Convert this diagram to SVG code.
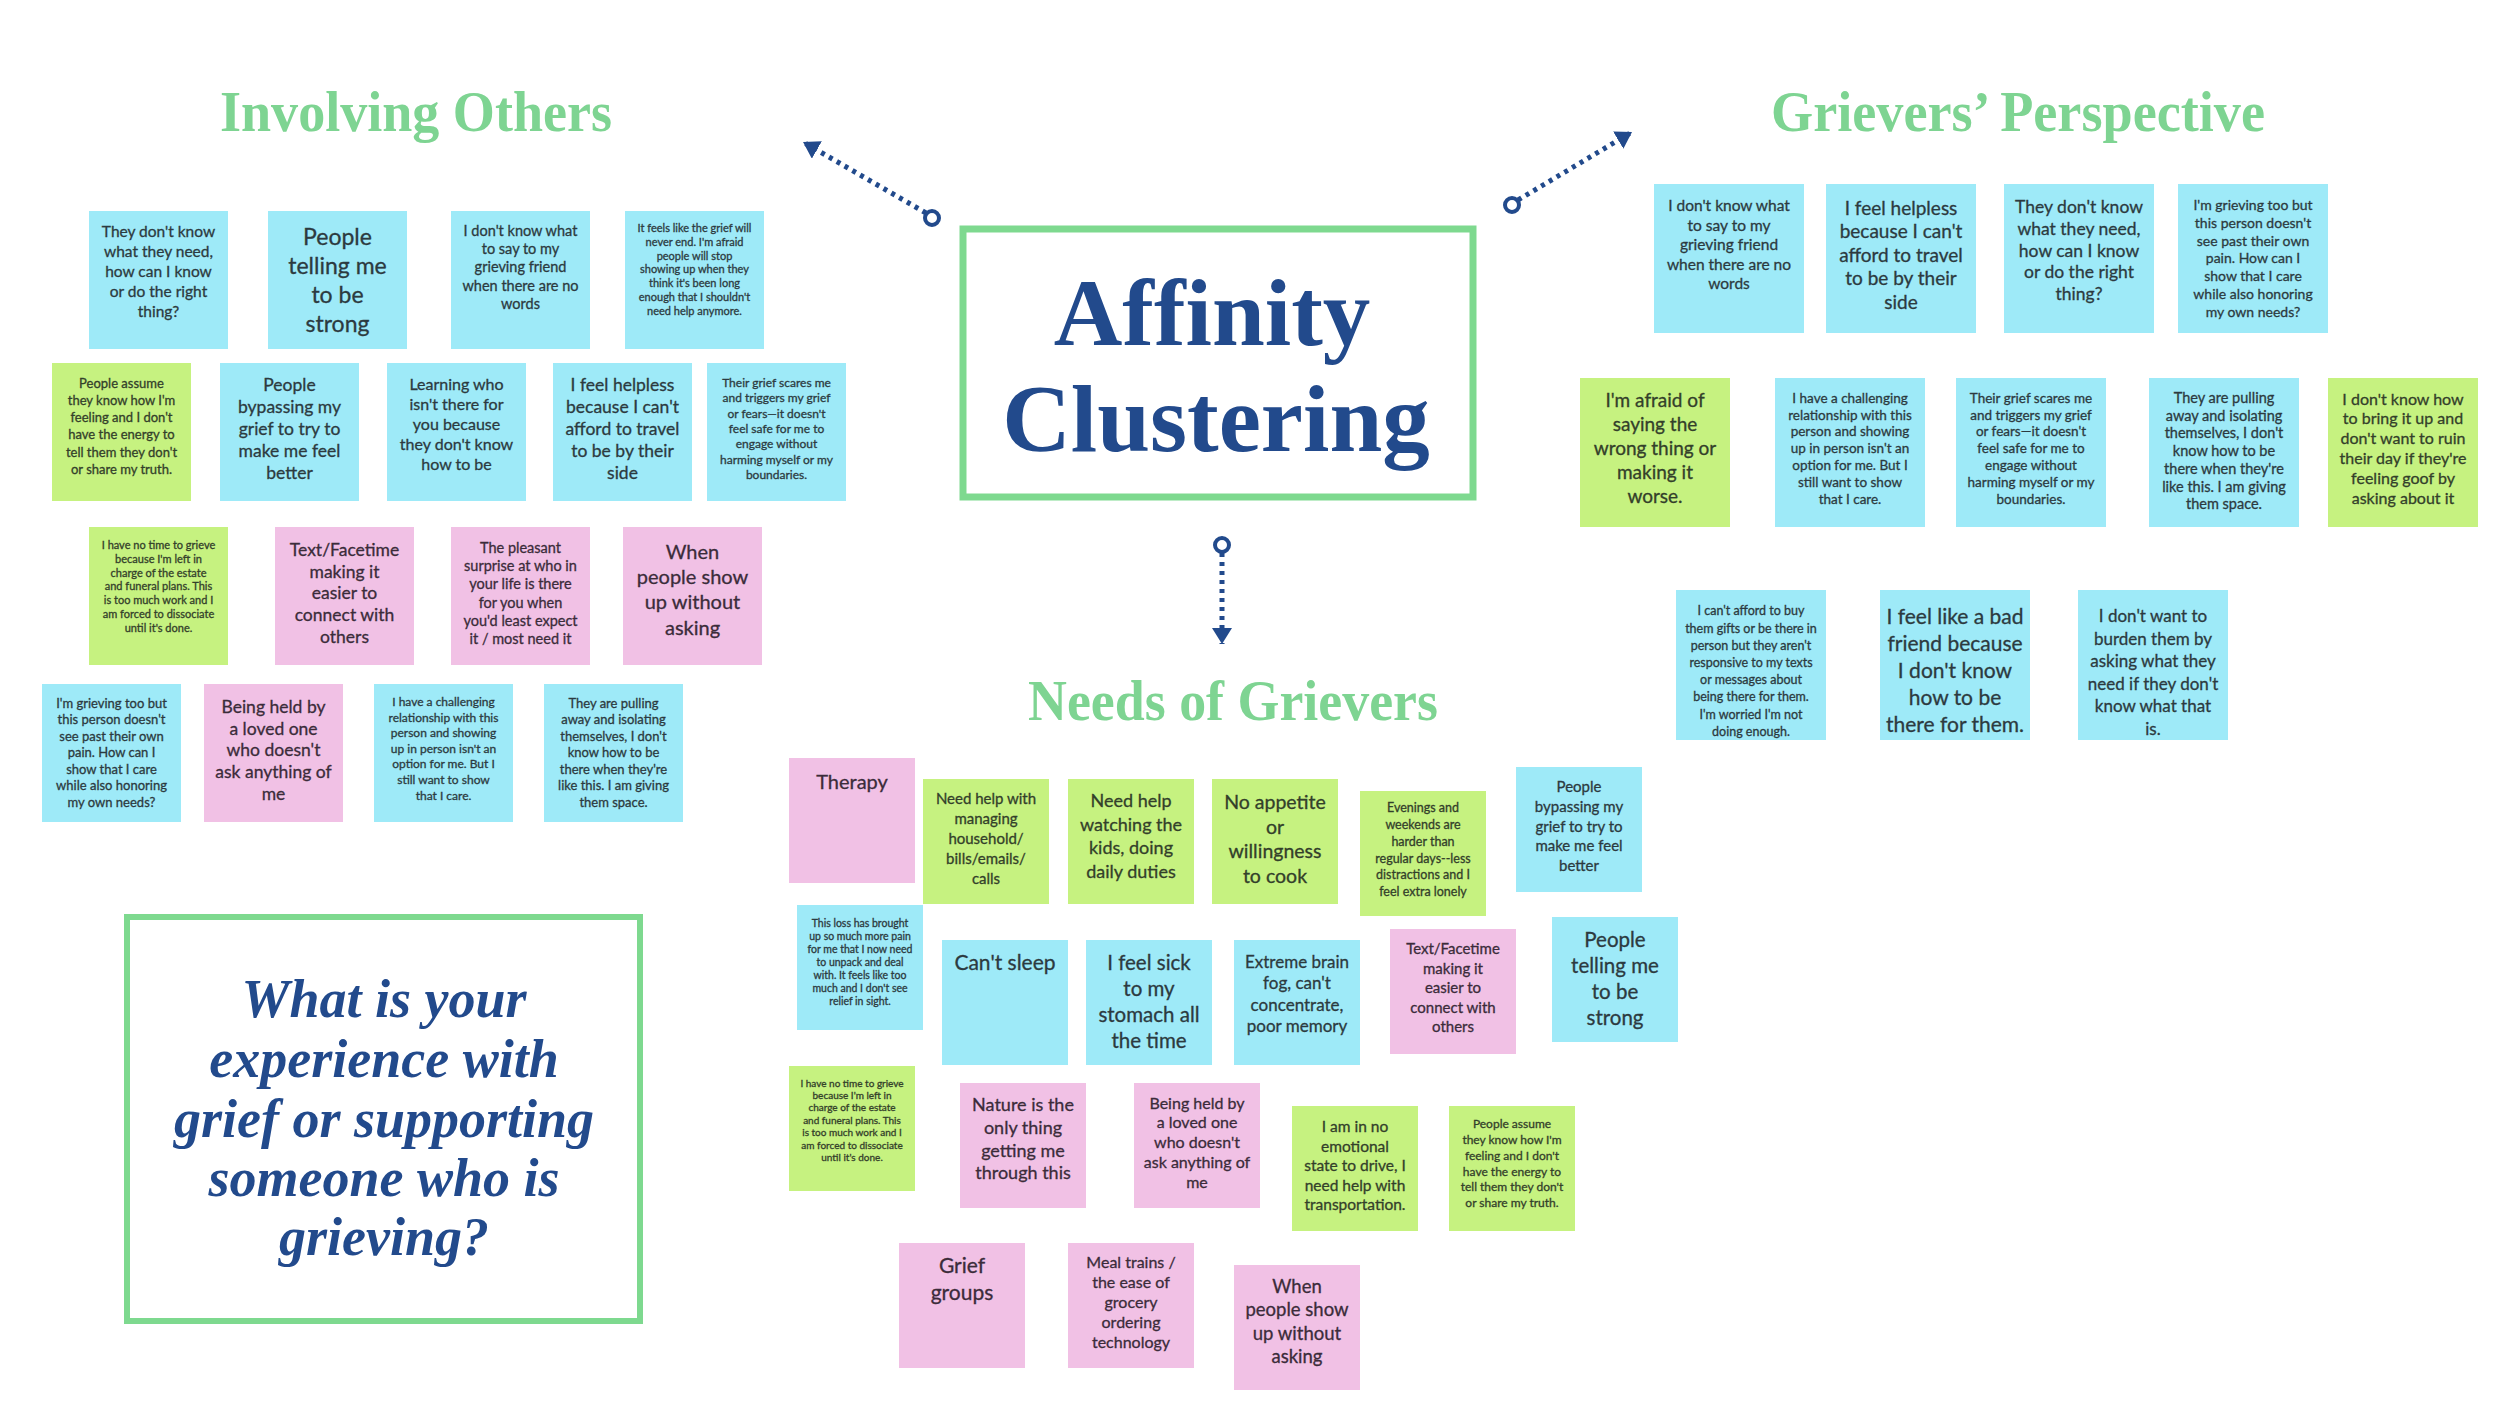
<svg xmlns="http://www.w3.org/2000/svg" width="2500" height="1406" viewBox="0 0 2500 1406">
<style>
.b{fill:#9EEAF8}.g{fill:#C6F280}.p{fill:#F1C1E5}
text.t{font-family:Lato,"Liberation Sans",sans-serif;text-anchor:middle;fill:#2c3a40;stroke:#2c3a40;stroke-width:0.3}
.tp{fill:#3b2c3a!important;stroke:#3b2c3a!important}.tg{fill:#33402a!important;stroke:#33402a!important}
.h{font-family:"Liberation Serif",serif;font-weight:bold;fill:#7ED492;font-size:56px}
.title{font-family:"Liberation Serif",serif;font-weight:bold;fill:#224A8C;font-size:95px;text-anchor:middle}
.q{font-family:"Liberation Serif",serif;font-weight:bold;font-style:italic;fill:#224A8C;font-size:54px;text-anchor:middle}
.frame{fill:#fff;stroke:#7ED98F}
.dots{stroke:#224A8C;stroke-width:5;stroke-dasharray:4 5;fill:none}
.ring{fill:#fff;stroke:#224A8C;stroke-width:4}
</style>
<defs>
<marker id="ah" markerUnits="userSpaceOnUse" viewBox="0 0 16 20" markerWidth="16" markerHeight="20" refX="16" refY="10" orient="auto"><path d="M0,0 L16,10 L0,20 z" fill="#224A8C"/></marker>
</defs>
<rect width="2500" height="1406" fill="#fff"/>

<g id="connectors">
<line class="dots" x1="926" y1="213" x2="803" y2="142" marker-end="url(#ah)"/>
<circle class="ring" cx="932" cy="218" r="7"/>
<line class="dots" x1="1518" y1="200" x2="1632" y2="132" marker-end="url(#ah)"/>
<circle class="ring" cx="1512" cy="205" r="7"/>
<line class="dots" x1="1222" y1="553" x2="1222" y2="644" marker-end="url(#ah)"/>
<circle class="ring" cx="1222" cy="545" r="7"/>
</g>

<g id="title">
<rect class="frame" x="963" y="229" width="510" height="268" stroke-width="7"/>
<text class="title" x="1212" y="345">Affinity</text>
<text class="title" x="1216" y="451">Clustering</text>
</g>

<g id="heading-involving"><text class="h" x="220" y="131" textLength="392" lengthAdjust="spacingAndGlyphs">Involving Others</text></g>
<g id="heading-grievers"><text class="h" x="1771" y="131" textLength="494" lengthAdjust="spacingAndGlyphs">Grievers’ Perspective</text></g>
<g id="heading-needs"><text class="h" x="1028" y="720" textLength="410" lengthAdjust="spacingAndGlyphs">Needs of Grievers</text></g>

<g id="question">
<rect class="frame" x="127" y="917" width="513" height="404" stroke-width="6"/>
<text class="q" x="384" y="1017">What is your</text>
<text class="q" x="384" y="1077">experience with</text>
<text class="q" x="384" y="1137">grief or supporting</text>
<text class="q" x="384" y="1196">someone who is</text>
<text class="q" x="384" y="1255">grieving?</text>
</g>

<!-- Involving Others -->
<g id="n1"><rect class="b" x="89" y="211" width="139" height="138"/><text class="t" x="158.5" y="237" font-size="15.5"><tspan x="158.5">They don't know</tspan><tspan x="158.5" dy="20">what they need,</tspan><tspan x="158.5" dy="20">how can I know</tspan><tspan x="158.5" dy="20">or do the right</tspan><tspan x="158.5" dy="20">thing?</tspan></text></g>
<g id="n2"><rect class="b" x="268" y="211" width="139" height="138"/><text class="t" x="337.5" y="245" font-size="23"><tspan x="337.5">People</tspan><tspan x="337.5" dy="29">telling me</tspan><tspan x="337.5" dy="29">to be</tspan><tspan x="337.5" dy="29">strong</tspan></text></g>
<g id="n3"><rect class="b" x="451" y="211" width="139" height="138"/><text class="t" x="520.5" y="236" font-size="14.5"><tspan x="520.5">I don't know what</tspan><tspan x="520.5" dy="18.2">to say to my</tspan><tspan x="520.5" dy="18.2">grieving friend</tspan><tspan x="520.5" dy="18.2">when there are no</tspan><tspan x="520.5" dy="18.2">words</tspan></text></g>
<g id="n4"><rect class="b" x="625" y="211" width="139" height="138"/><text class="t" x="694.5" y="232" font-size="11"><tspan x="694.5">It feels like the grief will</tspan><tspan x="694.5" dy="13.8">never end. I'm afraid</tspan><tspan x="694.5" dy="13.8">people will stop</tspan><tspan x="694.5" dy="13.8">showing up when they</tspan><tspan x="694.5" dy="13.8">think it's been long</tspan><tspan x="694.5" dy="13.8">enough that I shouldn't</tspan><tspan x="694.5" dy="13.8">need help anymore.</tspan></text></g>
<g id="n5"><rect class="g" x="52" y="363" width="139" height="138"/><text class="t tg" x="121.5" y="387.5" font-size="13"><tspan x="121.5">People assume</tspan><tspan x="121.5" dy="17.3">they know how I'm</tspan><tspan x="121.5" dy="17.3">feeling and I don't</tspan><tspan x="121.5" dy="17.3">have the energy to</tspan><tspan x="121.5" dy="17.3">tell them they don't</tspan><tspan x="121.5" dy="17.3">or share my truth.</tspan></text></g>
<g id="n6"><rect class="b" x="220" y="363" width="139" height="138"/><text class="t" x="289.5" y="391" font-size="17.5"><tspan x="289.5">People</tspan><tspan x="289.5" dy="22">bypassing my</tspan><tspan x="289.5" dy="22">grief to try to</tspan><tspan x="289.5" dy="22">make me feel</tspan><tspan x="289.5" dy="22">better</tspan></text></g>
<g id="n7"><rect class="b" x="387" y="363" width="139" height="138"/><text class="t" x="456.5" y="389.5" font-size="16"><tspan x="456.5">Learning who</tspan><tspan x="456.5" dy="20.2">isn't there for</tspan><tspan x="456.5" dy="20.2">you because</tspan><tspan x="456.5" dy="20.2">they don't know</tspan><tspan x="456.5" dy="20.2">how to be</tspan></text></g>
<g id="n8"><rect class="b" x="553" y="363" width="139" height="138"/><text class="t" x="622.5" y="391" font-size="17.5"><tspan x="622.5">I feel helpless</tspan><tspan x="622.5" dy="22">because I can't</tspan><tspan x="622.5" dy="22">afford to travel</tspan><tspan x="622.5" dy="22">to be by their</tspan><tspan x="622.5" dy="22">side</tspan></text></g>
<g id="n9"><rect class="b" x="707" y="363" width="139" height="138"/><text class="t" x="776.5" y="387" font-size="12"><tspan x="776.5">Their grief scares me</tspan><tspan x="776.5" dy="15.3">and triggers my grief</tspan><tspan x="776.5" dy="15.3">or fears—it doesn't</tspan><tspan x="776.5" dy="15.3">feel safe for me to</tspan><tspan x="776.5" dy="15.3">engage without</tspan><tspan x="776.5" dy="15.3">harming myself or my</tspan><tspan x="776.5" dy="15.3">boundaries.</tspan></text></g>
<g id="n10"><rect class="g" x="89" y="527" width="139" height="138"/><text class="t tg" x="158.5" y="549" font-size="11"><tspan x="158.5">I have no time to grieve</tspan><tspan x="158.5" dy="13.8">because I'm left in</tspan><tspan x="158.5" dy="13.8">charge of the estate</tspan><tspan x="158.5" dy="13.8">and funeral plans. This</tspan><tspan x="158.5" dy="13.8">is too much work and I</tspan><tspan x="158.5" dy="13.8">am forced to dissociate</tspan><tspan x="158.5" dy="13.8">until it's done.</tspan></text></g>
<g id="n11"><rect class="p" x="275" y="527" width="139" height="138"/><text class="t tp" x="344.5" y="556" font-size="17.5"><tspan x="344.5">Text/Facetime</tspan><tspan x="344.5" dy="21.7">making it</tspan><tspan x="344.5" dy="21.7">easier to</tspan><tspan x="344.5" dy="21.7">connect with</tspan><tspan x="344.5" dy="21.7">others</tspan></text></g>
<g id="n12"><rect class="p" x="451" y="527" width="139" height="138"/><text class="t tp" x="520.5" y="553" font-size="14.5"><tspan x="520.5">The pleasant</tspan><tspan x="520.5" dy="18.2">surprise at who in</tspan><tspan x="520.5" dy="18.2">your life is there</tspan><tspan x="520.5" dy="18.2">for you when</tspan><tspan x="520.5" dy="18.2">you'd least expect</tspan><tspan x="520.5" dy="18.2">it / most need it</tspan></text></g>
<g id="n13"><rect class="p" x="623" y="527" width="139" height="138"/><text class="t tp" x="692.5" y="559" font-size="20"><tspan x="692.5">When</tspan><tspan x="692.5" dy="25.2">people show</tspan><tspan x="692.5" dy="25.2">up without</tspan><tspan x="692.5" dy="25.2">asking</tspan></text></g>
<g id="n14"><rect class="b" x="42" y="684" width="139" height="138"/><text class="t" x="111.5" y="707.5" font-size="13"><tspan x="111.5">I'm grieving too but</tspan><tspan x="111.5" dy="16.5">this person doesn't</tspan><tspan x="111.5" dy="16.5">see past their own</tspan><tspan x="111.5" dy="16.5">pain. How can I</tspan><tspan x="111.5" dy="16.5">show that I care</tspan><tspan x="111.5" dy="16.5">while also honoring</tspan><tspan x="111.5" dy="16.5">my own needs?</tspan></text></g>
<g id="n15"><rect class="p" x="204" y="684" width="139" height="138"/><text class="t tp" x="273.5" y="713" font-size="17.5"><tspan x="273.5">Being held by</tspan><tspan x="273.5" dy="21.7">a loved one</tspan><tspan x="273.5" dy="21.7">who doesn't</tspan><tspan x="273.5" dy="21.7">ask anything of</tspan><tspan x="273.5" dy="21.7">me</tspan></text></g>
<g id="n16"><rect class="b" x="374" y="684" width="139" height="138"/><text class="t" x="443.5" y="706" font-size="12"><tspan x="443.5">I have a challenging</tspan><tspan x="443.5" dy="15.6">relationship with this</tspan><tspan x="443.5" dy="15.6">person and showing</tspan><tspan x="443.5" dy="15.6">up in person isn't an</tspan><tspan x="443.5" dy="15.6">option for me. But I</tspan><tspan x="443.5" dy="15.6">still want to show</tspan><tspan x="443.5" dy="15.6">that I care.</tspan></text></g>
<g id="n17"><rect class="b" x="544" y="684" width="139" height="138"/><text class="t" x="613.5" y="707.5" font-size="13"><tspan x="613.5">They are pulling</tspan><tspan x="613.5" dy="16.5">away and isolating</tspan><tspan x="613.5" dy="16.5">themselves, I don't</tspan><tspan x="613.5" dy="16.5">know how to be</tspan><tspan x="613.5" dy="16.5">there when they're</tspan><tspan x="613.5" dy="16.5">like this. I am giving</tspan><tspan x="613.5" dy="16.5">them space.</tspan></text></g>

<!-- Grievers' Perspective -->
<g id="n18"><rect class="b" x="1654" y="184" width="150" height="149"/><text class="t" x="1729" y="211.4" font-size="15.5"><tspan x="1729">I don't know what</tspan><tspan x="1729" dy="19.5">to say to my</tspan><tspan x="1729" dy="19.5">grieving friend</tspan><tspan x="1729" dy="19.5">when there are no</tspan><tspan x="1729" dy="19.5">words</tspan></text></g>
<g id="n19"><rect class="b" x="1826" y="184" width="150" height="149"/><text class="t" x="1901" y="214.6" font-size="19"><tspan x="1901">I feel helpless</tspan><tspan x="1901" dy="23.5">because I can't</tspan><tspan x="1901" dy="23.5">afford to travel</tspan><tspan x="1901" dy="23.5">to be by their</tspan><tspan x="1901" dy="23.5">side</tspan></text></g>
<g id="n20"><rect class="b" x="2004" y="184" width="150" height="149"/><text class="t" x="2079" y="213" font-size="17.5"><tspan x="2079">They don't know</tspan><tspan x="2079" dy="21.8">what they need,</tspan><tspan x="2079" dy="21.8">how can I know</tspan><tspan x="2079" dy="21.8">or do the right</tspan><tspan x="2079" dy="21.8">thing?</tspan></text></g>
<g id="n21"><rect class="b" x="2178" y="184" width="150" height="149"/><text class="t" x="2253" y="210" font-size="14"><tspan x="2253">I'm grieving too but</tspan><tspan x="2253" dy="17.8">this person doesn't</tspan><tspan x="2253" dy="17.8">see past their own</tspan><tspan x="2253" dy="17.8">pain. How can I</tspan><tspan x="2253" dy="17.8">show that I care</tspan><tspan x="2253" dy="17.8">while also honoring</tspan><tspan x="2253" dy="17.8">my own needs?</tspan></text></g>
<g id="n22"><rect class="g" x="1580" y="378" width="150" height="149"/><text class="t tg" x="1655" y="406.6" font-size="19"><tspan x="1655">I'm afraid of</tspan><tspan x="1655" dy="24">saying the</tspan><tspan x="1655" dy="24">wrong thing or</tspan><tspan x="1655" dy="24">making it</tspan><tspan x="1655" dy="24">worse.</tspan></text></g>
<g id="n23"><rect class="b" x="1775" y="378" width="150" height="149"/><text class="t" x="1850" y="402.7" font-size="13.5"><tspan x="1850">I have a challenging</tspan><tspan x="1850" dy="16.8">relationship with this</tspan><tspan x="1850" dy="16.8">person and showing</tspan><tspan x="1850" dy="16.8">up in person isn't an</tspan><tspan x="1850" dy="16.8">option for me. But I</tspan><tspan x="1850" dy="16.8">still want to show</tspan><tspan x="1850" dy="16.8">that I care.</tspan></text></g>
<g id="n24"><rect class="b" x="1956" y="378" width="150" height="149"/><text class="t" x="2031" y="402.7" font-size="13.5"><tspan x="2031">Their grief scares me</tspan><tspan x="2031" dy="16.8">and triggers my grief</tspan><tspan x="2031" dy="16.8">or fears—it doesn't</tspan><tspan x="2031" dy="16.8">feel safe for me to</tspan><tspan x="2031" dy="16.8">engage without</tspan><tspan x="2031" dy="16.8">harming myself or my</tspan><tspan x="2031" dy="16.8">boundaries.</tspan></text></g>
<g id="n25"><rect class="b" x="2149" y="378" width="150" height="149"/><text class="t" x="2224" y="403" font-size="14.5"><tspan x="2224">They are pulling</tspan><tspan x="2224" dy="17.7">away and isolating</tspan><tspan x="2224" dy="17.7">themselves, I don't</tspan><tspan x="2224" dy="17.7">know how to be</tspan><tspan x="2224" dy="17.7">there when they're</tspan><tspan x="2224" dy="17.7">like this. I am giving</tspan><tspan x="2224" dy="17.7">them space.</tspan></text></g>
<g id="n26"><rect class="g" x="2328" y="378" width="150" height="149"/><text class="t tg" x="2403" y="404.6" font-size="16"><tspan x="2403">I don't know how</tspan><tspan x="2403" dy="19.8">to bring it up and</tspan><tspan x="2403" dy="19.8">don't want to ruin</tspan><tspan x="2403" dy="19.8">their day if they're</tspan><tspan x="2403" dy="19.8">feeling goof by</tspan><tspan x="2403" dy="19.8">asking about it</tspan></text></g>
<g id="n27"><rect class="b" x="1676" y="590" width="150" height="150"/><text class="t" x="1751" y="615.4" font-size="12.5"><tspan x="1751">I can't afford to buy</tspan><tspan x="1751" dy="17.2">them gifts or be there in</tspan><tspan x="1751" dy="17.2">person but they aren't</tspan><tspan x="1751" dy="17.2">responsive to my texts</tspan><tspan x="1751" dy="17.2">or messages about</tspan><tspan x="1751" dy="17.2">being there for them.</tspan><tspan x="1751" dy="17.2">I'm worried I'm not</tspan><tspan x="1751" dy="17.2">doing enough.</tspan></text></g>
<g id="n28"><rect class="b" x="1880" y="590" width="150" height="150"/><text class="t" x="1955" y="624.3" font-size="21"><tspan x="1955">I feel like a bad</tspan><tspan x="1955" dy="27">friend because</tspan><tspan x="1955" dy="27">I don't know</tspan><tspan x="1955" dy="27">how to be</tspan><tspan x="1955" dy="27">there for them.</tspan></text></g>
<g id="n29"><rect class="b" x="2078" y="590" width="150" height="150"/><text class="t" x="2153" y="622" font-size="17"><tspan x="2153">I don't want to</tspan><tspan x="2153" dy="22.6">burden them by</tspan><tspan x="2153" dy="22.6">asking what they</tspan><tspan x="2153" dy="22.6">need if they don't</tspan><tspan x="2153" dy="22.6">know what that</tspan><tspan x="2153" dy="22.6">is.</tspan></text></g>

<!-- Needs of Grievers -->
<g id="n30"><rect class="p" x="789" y="758" width="126" height="125"/><text class="t tp" x="852" y="789" font-size="20">Therapy</text></g>
<g id="n31"><rect class="g" x="923" y="779" width="126" height="125"/><text class="t tg" x="986" y="804.2" font-size="15"><tspan x="986">Need help with</tspan><tspan x="986" dy="20">managing</tspan><tspan x="986" dy="20">household/</tspan><tspan x="986" dy="20">bills/emails/</tspan><tspan x="986" dy="20">calls</tspan></text></g>
<g id="n32"><rect class="g" x="1068" y="779" width="126" height="125"/><text class="t tg" x="1131" y="807.3" font-size="18"><tspan x="1131">Need help</tspan><tspan x="1131" dy="23.5">watching the</tspan><tspan x="1131" dy="23.5">kids, doing</tspan><tspan x="1131" dy="23.5">daily duties</tspan></text></g>
<g id="n33"><rect class="g" x="1212" y="779" width="126" height="125"/><text class="t tg" x="1275" y="808.8" font-size="19.5"><tspan x="1275">No appetite</tspan><tspan x="1275" dy="24.7">or</tspan><tspan x="1275" dy="24.7">willingness</tspan><tspan x="1275" dy="24.7">to cook</tspan></text></g>
<g id="n34"><rect class="g" x="1360" y="791" width="126" height="125"/><text class="t tg" x="1423" y="812.4" font-size="12.5"><tspan x="1423">Evenings and</tspan><tspan x="1423" dy="16.7">weekends are</tspan><tspan x="1423" dy="16.7">harder than</tspan><tspan x="1423" dy="16.7">regular days--less</tspan><tspan x="1423" dy="16.7">distractions and I</tspan><tspan x="1423" dy="16.7">feel extra lonely</tspan></text></g>
<g id="n35"><rect class="b" x="1516" y="767" width="126" height="125"/><text class="t" x="1579" y="792.2" font-size="15"><tspan x="1579">People</tspan><tspan x="1579" dy="19.7">bypassing my</tspan><tspan x="1579" dy="19.7">grief to try to</tspan><tspan x="1579" dy="19.7">make me feel</tspan><tspan x="1579" dy="19.7">better</tspan></text></g>
<g id="n36"><rect class="b" x="797" y="905" width="126" height="125"/><text class="t" x="860" y="926.7" font-size="10.5"><tspan x="860">This loss has brought</tspan><tspan x="860" dy="13">up so much more pain</tspan><tspan x="860" dy="13">for me that I now need</tspan><tspan x="860" dy="13">to unpack and deal</tspan><tspan x="860" dy="13">with. It feels like too</tspan><tspan x="860" dy="13">much and I don't see</tspan><tspan x="860" dy="13">relief in sight.</tspan></text></g>
<g id="n37"><rect class="b" x="942" y="940" width="126" height="125"/><text class="t" x="1005" y="970.3" font-size="21">Can't sleep</text></g>
<g id="n38"><rect class="b" x="1086" y="940" width="126" height="125"/><text class="t" x="1149" y="970.2" font-size="20.5"><tspan x="1149">I feel sick</tspan><tspan x="1149" dy="26">to my</tspan><tspan x="1149" dy="26">stomach all</tspan><tspan x="1149" dy="26">the time</tspan></text></g>
<g id="n39"><rect class="b" x="1234" y="940" width="126" height="125"/><text class="t" x="1297" y="968" font-size="17"><tspan x="1297">Extreme brain</tspan><tspan x="1297" dy="21.4">fog, can't</tspan><tspan x="1297" dy="21.4">concentrate,</tspan><tspan x="1297" dy="21.4">poor memory</tspan></text></g>
<g id="n40"><rect class="p" x="1390" y="929" width="126" height="125"/><text class="t tp" x="1453" y="954.2" font-size="15"><tspan x="1453">Text/Facetime</tspan><tspan x="1453" dy="19.5">making it</tspan><tspan x="1453" dy="19.5">easier to</tspan><tspan x="1453" dy="19.5">connect with</tspan><tspan x="1453" dy="19.5">others</tspan></text></g>
<g id="n41"><rect class="b" x="1552" y="917" width="126" height="125"/><text class="t" x="1615" y="947.2" font-size="20.5"><tspan x="1615">People</tspan><tspan x="1615" dy="26">telling me</tspan><tspan x="1615" dy="26">to be</tspan><tspan x="1615" dy="26">strong</tspan></text></g>
<g id="n42"><rect class="g" x="789" y="1066" width="126" height="125"/><text class="t tg" x="852" y="1086.5" font-size="10"><tspan x="852">I have no time to grieve</tspan><tspan x="852" dy="12.4">because I'm left in</tspan><tspan x="852" dy="12.4">charge of the estate</tspan><tspan x="852" dy="12.4">and funeral plans. This</tspan><tspan x="852" dy="12.4">is too much work and I</tspan><tspan x="852" dy="12.4">am forced to dissociate</tspan><tspan x="852" dy="12.4">until it's done.</tspan></text></g>
<g id="n43"><rect class="p" x="960" y="1083" width="126" height="125"/><text class="t tp" x="1023" y="1111.3" font-size="18"><tspan x="1023">Nature is the</tspan><tspan x="1023" dy="22.7">only thing</tspan><tspan x="1023" dy="22.7">getting me</tspan><tspan x="1023" dy="22.7">through this</tspan></text></g>
<g id="n44"><rect class="p" x="1134" y="1083" width="126" height="125"/><text class="t tp" x="1197" y="1108.6" font-size="16"><tspan x="1197">Being held by</tspan><tspan x="1197" dy="19.8">a loved one</tspan><tspan x="1197" dy="19.8">who doesn't</tspan><tspan x="1197" dy="19.8">ask anything of</tspan><tspan x="1197" dy="19.8">me</tspan></text></g>
<g id="n45"><rect class="g" x="1292" y="1106" width="126" height="125"/><text class="t tg" x="1355" y="1132.4" font-size="15.5"><tspan x="1355">I am in no</tspan><tspan x="1355" dy="19.5">emotional</tspan><tspan x="1355" dy="19.5">state to drive, I</tspan><tspan x="1355" dy="19.5">need help with</tspan><tspan x="1355" dy="19.5">transportation.</tspan></text></g>
<g id="n46"><rect class="g" x="1449" y="1106" width="126" height="125"/><text class="t tg" x="1512" y="1128.2" font-size="12"><tspan x="1512">People assume</tspan><tspan x="1512" dy="15.8">they know how I'm</tspan><tspan x="1512" dy="15.8">feeling and I don't</tspan><tspan x="1512" dy="15.8">have the energy to</tspan><tspan x="1512" dy="15.8">tell them they don't</tspan><tspan x="1512" dy="15.8">or share my truth.</tspan></text></g>
<g id="n47"><rect class="p" x="899" y="1243" width="126" height="125"/><text class="t tp" x="962" y="1273.3" font-size="21"><tspan x="962">Grief</tspan><tspan x="962" dy="27">groups</tspan></text></g>
<g id="n48"><rect class="p" x="1068" y="1243" width="126" height="125"/><text class="t tp" x="1131" y="1267.6" font-size="16"><tspan x="1131">Meal trains /</tspan><tspan x="1131" dy="20">the ease of</tspan><tspan x="1131" dy="20">grocery</tspan><tspan x="1131" dy="20">ordering</tspan><tspan x="1131" dy="20">technology</tspan></text></g>
<g id="n49"><rect class="p" x="1234" y="1265" width="126" height="125"/><text class="t tp" x="1297" y="1292.5" font-size="18.5"><tspan x="1297">When</tspan><tspan x="1297" dy="23.5">people show</tspan><tspan x="1297" dy="23.5">up without</tspan><tspan x="1297" dy="23.5">asking</tspan></text></g>
</svg>
